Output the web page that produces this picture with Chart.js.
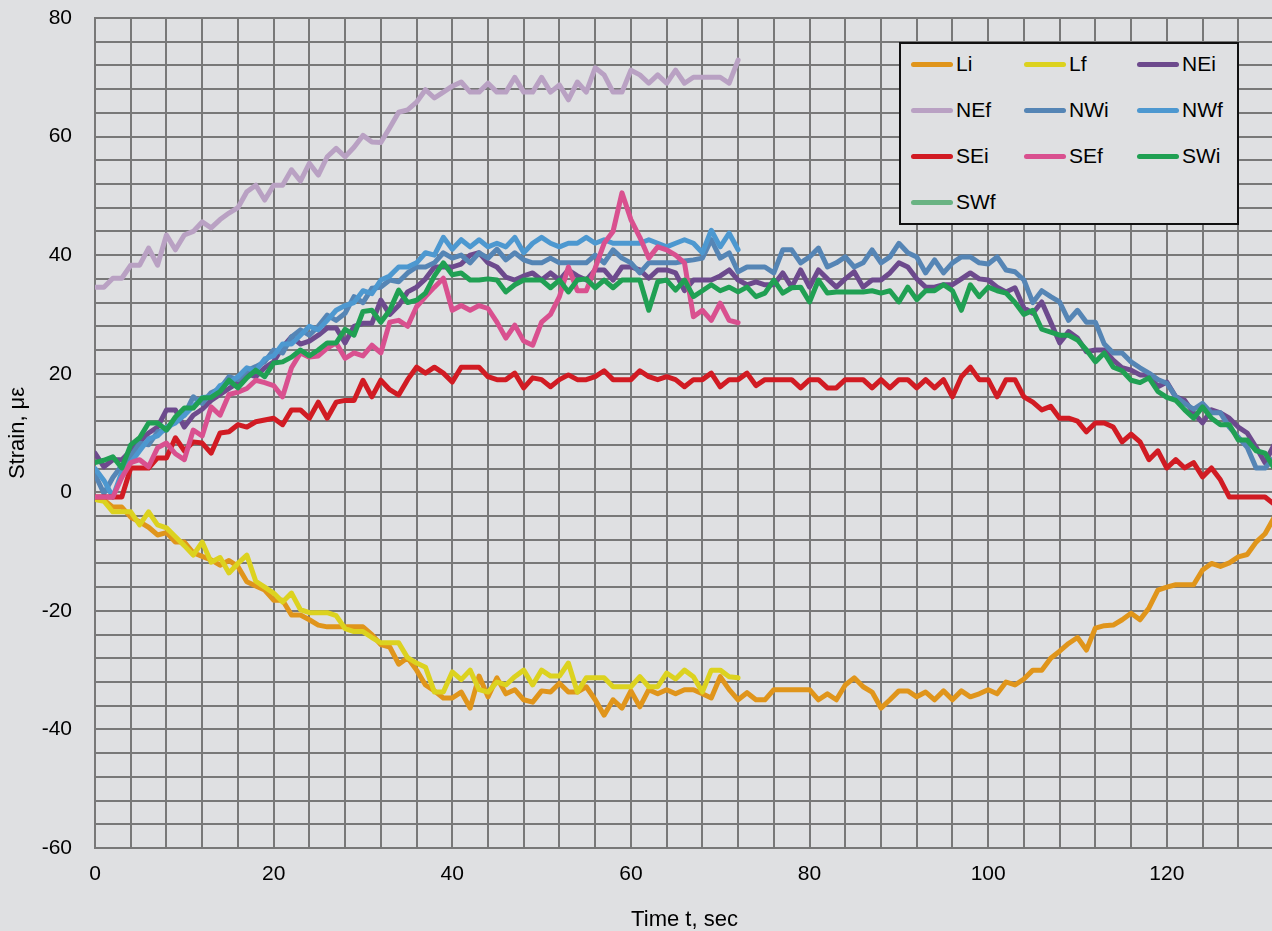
<!DOCTYPE html>
<html>
<head>
<meta charset="utf-8">
<script src="https://cdn.jsdelivr.net/npm/chart.js@4.4.1/dist/chart.umd.min.js"></script>
<style>
  html, body { margin: 0; padding: 0; overflow: hidden; background: #dfe0e2; }
  #wrap { position: relative; width: 1276px; height: 931px; }
  #legend {
    position: absolute; left: 899px; top: 42px; width: 340px; height: 183px;
    box-sizing: border-box; border: 2px solid #111; background: #dfe0e2;
    font-family: "Liberation Sans", Arial, sans-serif; font-size: 21px; color: #000;
  }
  .item { position: absolute; display: flex; align-items: center; height: 30px; white-space: nowrap; }
  .swatch { width: 42px; height: 5px; border-radius: 3px; margin-right: 3px; }
</style>
</head>
<body>
<div id="wrap">
  <canvas id="c" width="1276" height="931"></canvas>
  <div id="legend"></div>
</div>
<script>
// Sampling clock, seconds
const seconds = [
  0,1,2,3,4,5,6,7,8,9,10,11,12,13,14,15,16,17,18,19,20,21,22,23,24,25,26,27,28,29,
  30,31,32,33,34,35,36,37,38,39,40,41,42,43,44,45,46,47,48,49,50,51,52,53,54,55,56,57,58,59,
  60,61,62,63,64,65,66,67,68,69,70,71,72,73,74,75,76,77,78,79,80,81,82,83,84,85,86,87,88,89,
  90,91,92,93,94,95,96,97,98,99,100,101,102,103,104,105,106,107,108,109,110,111,112,113,114,115,116,117,118,119,
  120,121,122,123,124,125,126,127,128,129,130,131,132
];

const seriesNames = ['Li', 'Lf', 'NEi', 'NEf', 'NWi', 'NWf', 'SEi', 'SEf', 'SWi', 'SWf'];

// Strain readings, microstrain
const liData = [
  -1.2, -1.3, -2.5, -2.5, -4.2, -5.0, -5.9, -7.2, -6.8, -8.4,
  -8.4, -10.2, -10.8, -11.4, -12.3, -11.5, -12.5, -15.1, -15.8, -16.5,
  -18.2, -18.2, -20.7, -20.7, -21.5, -22.4, -22.7, -22.7, -22.7, -22.7,
  -22.7, -24.0, -25.7, -26.1, -29.0, -27.9, -30.0, -32.5, -33.5, -34.7,
  -34.7, -33.7, -36.4, -31.0, -34.5, -31.3, -34.0, -33.3, -35.0, -35.4,
  -33.5, -33.7, -32.2, -33.7, -33.7, -32.8, -35.0, -37.6, -35.0, -36.4,
  -33.5, -36.2, -33.3, -34.0, -33.3, -34.0, -33.3, -33.3, -34.0, -34.7,
  -31.1, -33.3, -35.0, -33.8, -35.0, -35.0, -33.3, -33.3, -33.3, -33.3,
  -33.3, -35.0, -34.0, -35.0, -32.5, -31.3, -32.8, -33.7, -36.4, -35.0,
  -33.5, -33.5, -34.5, -33.7, -35.0, -33.5, -35.0, -33.5, -34.5, -34.0,
  -33.3, -34.0, -32.0, -32.5, -31.5, -30.0, -30.0, -28.0, -26.8, -25.5,
  -24.5, -26.6, -22.9, -22.5, -22.4, -21.5, -20.4, -21.5, -19.5, -16.5,
  -16.0, -15.6, -15.6, -15.6, -13.1, -12.0, -12.5, -11.9, -10.9, -10.5,
  -8.4, -7.0, -4.3
];
const lfData = [
  -1.2, -1.5, -3.3, -3.3, -3.3, -5.5, -3.3, -5.5, -6.0, -7.5,
  -9.0, -10.6, -8.4, -11.8, -11.0, -13.6, -12.0, -10.6, -15.0, -16.0,
  -17.0, -18.5, -17.0, -19.8, -20.3, -20.3, -20.3, -20.8, -23.0, -23.5,
  -23.5, -24.5, -25.4, -25.4, -25.4, -27.9, -28.8, -29.5, -33.7, -33.7,
  -30.3, -31.6, -30.0, -33.3, -33.7, -32.0, -32.5, -31.1, -30.0, -32.5,
  -30.0, -31.0, -31.0, -28.8, -33.7, -31.3, -31.3, -31.3, -32.8, -32.8,
  -32.8, -31.1, -32.8, -32.8, -30.5, -31.5, -30.0, -31.1, -33.7, -30.0,
  -30.0, -31.1, -31.3
];
const neiData = [
  6.6, 4.3, 5.5, 5.5, 7.0, 8.5, 10.0, 11.0, 13.9, 13.9,
  11.0, 13.0, 14.0, 15.5, 16.5, 17.5, 18.5, 20.0, 19.5, 21.0,
  22.0, 24.5, 26.2, 25.0, 25.5, 26.5, 27.7, 27.7, 25.2, 28.0,
  28.5, 28.5, 32.4, 30.0, 31.5, 33.8, 34.6, 36.0, 38.0, 38.0,
  38.0, 38.5, 40.0, 40.4, 38.7, 38.0, 36.3, 35.8, 36.5, 37.0,
  35.8, 37.0, 35.8, 37.5, 36.5, 35.8, 37.5, 37.5, 35.8, 38.0,
  38.0, 37.5, 36.1, 37.5, 37.5, 37.0, 34.0, 35.8, 35.8, 35.8,
  36.5, 37.5, 35.8, 35.0, 35.5, 35.0, 35.0, 37.0, 34.6, 37.5,
  34.6, 37.5, 36.0, 34.6, 36.0, 37.2, 34.6, 35.8, 35.8, 37.0,
  38.7, 38.0, 36.0, 34.6, 34.6, 35.0, 35.0, 36.0, 37.0, 36.0,
  35.8, 34.6, 33.8, 34.5, 31.1, 30.2, 32.1, 28.7, 25.2, 27.1,
  26.0, 23.7, 24.0, 24.0, 22.3, 21.0, 20.6, 19.8, 19.8, 17.8,
  18.6, 16.1, 15.5, 13.4, 11.7, 13.9, 13.4, 12.5, 11.0, 10.0,
  7.6, 5.0, 8.0
];
const nefData = [
  34.6, 34.6, 36.1, 36.1, 38.3, 38.3, 41.2, 38.3, 43.4, 40.9,
  43.4, 44.0, 45.6, 44.6, 46.0, 47.1, 48.0, 50.7, 51.8, 49.3,
  51.8, 51.8, 54.4, 52.5, 55.5, 53.5, 56.6, 58.0, 56.6, 58.2,
  60.2, 59.1, 59.0, 61.5, 64.1, 64.5, 65.8, 67.9, 66.5, 67.5,
  68.5, 69.2, 67.5, 67.5, 69.0, 67.5, 67.5, 70.0, 67.5, 67.5,
  70.0, 67.5, 68.7, 66.2, 69.2, 67.5, 71.6, 70.4, 67.5, 67.5,
  71.2, 70.4, 69.0, 70.4, 69.0, 71.2, 69.0, 70.0, 70.0, 70.0,
  70.0, 69.0, 72.9
];
const nwiData = [
  3.0, -0.2, 2.5, 4.5, 6.0, 8.3, 8.0, 10.2, 10.5, 12.2,
  13.0, 16.1, 15.0, 16.8, 17.5, 19.5, 19.0, 20.5, 21.2, 22.0,
  24.0, 23.5, 26.2, 27.4, 26.5, 28.0, 29.9, 29.0, 30.2, 33.0,
  32.0, 34.4, 34.6, 35.8, 35.5, 37.0, 38.0, 38.0, 38.7, 40.4,
  39.5, 40.0, 38.7, 40.4, 39.5, 41.0, 39.2, 40.4, 39.2, 38.7,
  38.7, 39.5, 38.7, 38.7, 38.7, 38.7, 40.0, 38.7, 40.9, 39.5,
  38.7, 37.0, 38.7, 38.7, 38.7, 38.7, 39.0, 39.2, 39.5, 42.6,
  39.5, 40.4, 37.2, 38.0, 38.0, 38.0, 37.0, 40.9, 40.9, 38.7,
  39.7, 41.2, 38.0, 38.7, 39.7, 38.0, 38.7, 40.9, 38.7, 39.7,
  42.0, 40.4, 39.7, 37.0, 39.2, 37.0, 38.7, 39.7, 39.7, 38.7,
  38.5, 39.7, 37.5, 37.2, 35.8, 32.0, 34.0, 33.0, 32.1, 29.0,
  30.7, 28.7, 28.7, 25.0, 23.5, 23.5, 22.0, 21.0, 20.1, 19.0,
  18.4, 16.1, 15.0, 14.0, 15.0, 13.4, 13.4, 11.0, 9.3, 7.6,
  4.1, 4.1, 5.8
];
const nwfData = [
  4.0, 2.0, -0.8, 3.4, 5.0, 7.0, 9.0, 9.5, 11.0, 11.7,
  13.0, 14.5, 16.0, 16.1, 18.0, 18.5, 19.5, 21.0, 20.5, 22.5,
  23.0, 25.0, 25.0, 26.5, 28.0, 27.4, 29.0, 30.7, 31.5, 32.0,
  34.0, 33.5, 35.8, 36.5, 38.0, 38.0, 38.7, 40.4, 40.0, 43.0,
  41.0, 42.6, 41.4, 42.6, 41.4, 42.0, 41.4, 43.0, 40.4, 42.0,
  43.0, 42.0, 41.4, 42.0, 42.0, 43.0, 42.0, 42.6, 42.0, 42.0,
  42.0, 42.0, 42.6, 42.0, 41.4, 42.0, 42.6, 42.0, 40.4, 44.2,
  41.4, 43.7, 40.9
];
const seiData = [
  -0.8, -0.8, -0.8, -0.8, 4.1, 4.1, 4.1, 5.8, 5.8, 9.2,
  7.0, 8.5, 8.3, 6.6, 10.0, 10.2, 11.4, 11.0, 11.9, 12.2,
  12.5, 11.4, 13.9, 13.9, 12.5, 15.2, 12.5, 15.2, 15.5, 15.5,
  18.9, 16.1, 18.9, 17.3, 16.4, 19.0, 21.1, 20.1, 21.1, 20.1,
  18.6, 21.1, 21.1, 21.1, 19.5, 19.0, 19.0, 20.1, 17.6, 19.3,
  19.0, 17.8, 19.0, 19.8, 19.0, 19.0, 19.5, 20.5, 19.0, 19.0,
  19.0, 20.5, 19.5, 19.0, 19.5, 19.0, 17.8, 19.0, 19.0, 20.1,
  17.8, 19.0, 19.0, 20.1, 18.0, 19.0, 19.0, 19.0, 19.0, 17.6,
  19.0, 19.0, 17.6, 17.6, 19.0, 19.0, 19.0, 17.6, 19.0, 17.6,
  19.0, 19.0, 17.6, 19.0, 17.6, 19.0, 16.1, 19.5, 21.1, 19.0,
  19.0, 16.1, 19.0, 19.0, 16.1, 15.2, 13.9, 14.5, 12.5, 12.5,
  12.0, 10.2, 11.7, 11.7, 11.0, 8.5, 9.8, 8.5, 5.5, 7.0,
  4.1, 5.5, 4.1, 5.0, 2.6, 4.1, 2.1, -0.8, -0.8, -0.8,
  -0.8, -0.8, -2.0
];
const sefData = [
  -0.8, -0.8, -0.8, 2.5, 5.0, 5.5, 4.3, 7.5, 8.3, 6.5,
  5.5, 10.5, 9.5, 14.4, 13.0, 16.5, 16.9, 17.5, 18.9, 18.5,
  18.0, 16.1, 21.0, 23.5, 22.8, 23.0, 24.3, 25.2, 22.6, 23.5,
  23.0, 24.8, 23.5, 28.7, 29.0, 28.0, 31.3, 33.0, 34.6, 36.1,
  30.7, 31.5, 30.7, 31.5, 31.0, 28.7, 26.0, 28.2, 25.5, 24.8,
  28.7, 30.0, 33.0, 38.0, 34.0, 34.0, 37.8, 42.0, 44.0, 50.5,
  46.0, 43.0, 39.5, 41.4, 40.9, 40.0, 38.7, 29.6, 30.7, 29.0,
  31.9, 29.0, 28.6
];
const swiData = [
  5.0, 5.4, 6.0, 4.1, 8.0, 9.2, 11.7, 11.7, 10.5, 12.7,
  14.2, 14.2, 15.9, 16.0, 17.0, 18.9, 17.6, 19.3, 20.6, 19.5,
  21.8, 22.0, 22.8, 24.0, 23.0, 24.0, 25.2, 25.2, 27.5, 26.5,
  30.5, 30.7, 28.7, 30.7, 34.1, 32.0, 32.4, 33.6, 36.5, 38.7,
  36.7, 37.0, 35.8, 35.8, 36.0, 35.8, 33.8, 35.0, 35.8, 35.8,
  35.8, 34.5, 35.8, 33.8, 35.8, 36.0, 34.5, 35.8, 34.5, 35.8,
  35.8, 35.8, 30.7, 35.5, 35.8, 34.1, 35.8, 33.0, 34.0, 35.0,
  34.0, 34.6, 33.8, 34.6, 33.0, 33.6, 35.8, 33.6, 34.5, 34.6,
  32.1, 35.8, 33.6, 33.8, 33.8, 33.8, 33.8, 34.0, 33.6, 34.0,
  32.1, 34.6, 32.5, 34.0, 34.0, 35.0, 34.0, 30.7, 35.0, 33.0,
  34.6, 34.0, 33.6, 32.0, 30.0, 30.7, 27.5, 27.0, 26.5, 26.5,
  25.7, 24.0, 22.0, 23.5, 21.1, 20.5, 18.9, 18.5, 19.3, 17.0,
  16.0, 15.5, 13.9, 12.5, 14.4, 12.5, 11.4, 11.4, 8.8, 8.8,
  7.0, 6.6, 4.1
];
const swfData = [];

const seriesValues = [liData, lfData, neiData, nefData, nwiData, nwfData, seiData, sefData, swiData, swfData];
const seriesColors = ['#e0951b', '#dcd21f', '#6d4a8d', '#b9a1c3', '#5585b5', '#4d98d0', '#d11b23', '#d9508f', '#20a053', '#6ab383'];

const FONT = '"Liberation Sans", Arial, sans-serif';
Chart.defaults.font.family = FONT;
Chart.defaults.color = '#000';

const GRID = '#787878';

const datasets = seriesNames.map((name, i) => ({
  label: name,
  data: seriesValues[i].map((v, k) => ({ x: seconds[k], y: v })),
  borderColor: seriesColors[i],
  backgroundColor: seriesColors[i],
  borderWidth: 5,
  borderJoinStyle: 'round',
  borderCapStyle: 'round',
  pointRadius: 0,
  tension: 0,
  fill: false,
  // later series sit on top of earlier ones
  order: seriesNames.length - i
}));

const chart = new Chart(document.getElementById('c'), {
  type: 'line',
  data: { datasets },
  options: {
    responsive: false,
    animation: false,
    devicePixelRatio: 1,
    layout: { padding: { top: 18, right: 2, left: 0, bottom: 0 } },
    plugins: { legend: { display: false }, tooltip: { enabled: false } },
    scales: {
      x: {
        type: 'linear',
        min: 0,
        max: 132,
        grid: { color: GRID, lineWidth: 2, drawTicks: false },
        border: { display: true, color: GRID, width: 2 },
        ticks: {
          stepSize: 4,
          autoSkip: false,
          maxRotation: 0,
          padding: 14,
          font: { size: 21 },
          callback: v => (v % 20 === 0 ? String(v) : '')
        },
        title: { display: true, text: 'Time t, sec', font: { size: 22, lineHeight: 1 }, padding: 0 },
        afterFit: s => {
          s.height = 83;
          s.paddingLeft = 0;
          s.paddingRight = 0;
        }
      },
      y: {
        min: -60,
        max: 80,
        grid: { color: GRID, lineWidth: 2, drawTicks: false },
        border: { display: true, color: GRID, width: 2 },
        ticks: {
          stepSize: 4,
          autoSkip: false,
          padding: 23,
          font: { size: 21 },
          callback: v => (v % 20 === 0 ? String(v) : '')
        },
        title: { display: true, text: 'Strain, με', font: { size: 22, lineHeight: 1 }, padding: { top: 7, bottom: 0 } },
        afterFit: s => {
          s.width = 95;
          s.paddingTop = 0;
          s.paddingBottom = 0;
        }
      }
    }
  }
});

// Boxed three-column legend built from the chart's datasets
const legendEl = document.getElementById('legend');
chart.data.datasets.forEach((ds, i) => {
  const row = Math.floor(i / 3), col = i % 3;
  const item = document.createElement('div');
  item.className = 'item';
  item.style.left = (10 + col * 113) + 'px';
  item.style.top = (5 + row * 46) + 'px';
  const sw = document.createElement('span');
  sw.className = 'swatch';
  sw.style.background = ds.borderColor;
  const tx = document.createElement('span');
  tx.textContent = ds.label;
  item.appendChild(sw);
  item.appendChild(tx);
  legendEl.appendChild(item);
});
</script>
</body>
</html>
